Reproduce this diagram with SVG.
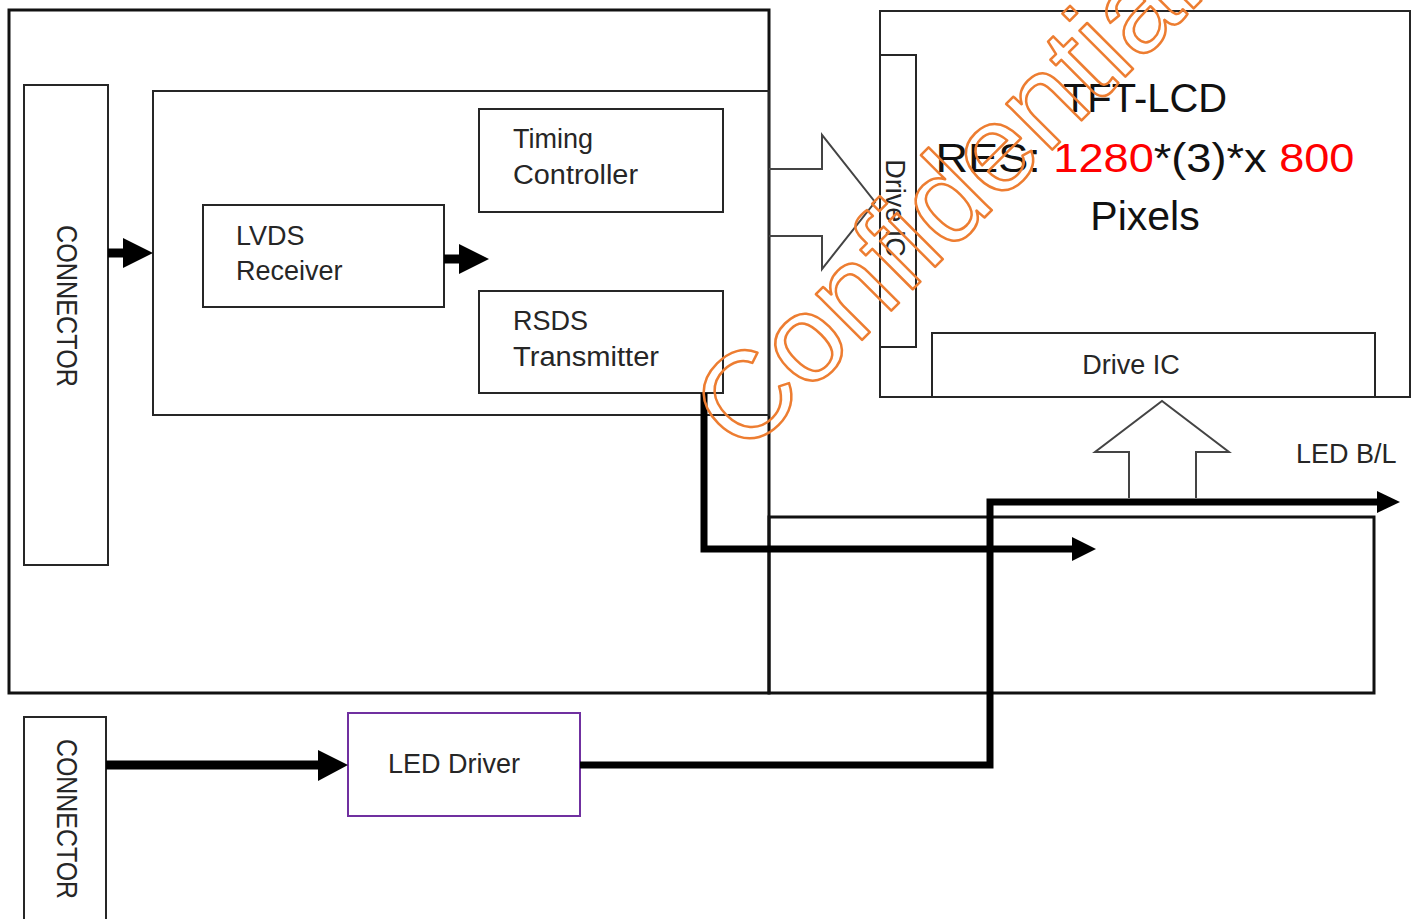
<svg xmlns="http://www.w3.org/2000/svg" width="1419" height="919" viewBox="0 0 1419 919">
<style>
.frame{fill:none;stroke:#111;stroke-width:3}
.box{fill:none;stroke:#262626;stroke-width:2}
.lbl{font-family:"Liberation Sans",Arial,sans-serif;font-size:27px;fill:#262626}
.big{font-family:"Liberation Sans",Arial,sans-serif;font-size:41px;fill:#111;text-anchor:middle}
.red{fill:#ff0000}
.thick{fill:none;stroke:#000;stroke-width:7}
.hollow{fill:none;stroke:#444;stroke-width:2}
.head{fill:#000}
</style>
<rect width="1419" height="919" fill="#fff"/>
<g id="board">
<rect class="frame" x="9" y="10" width="760" height="683"/>
<rect class="frame" x="769" y="517" width="605" height="176"/>
</g>
<g id="inner-block">
<rect class="box" x="153" y="91" width="616" height="324"/>
</g>
<g id="connector-top">
<rect class="box" x="24" y="85" width="84" height="480" stroke-width="1.5"/>
<text class="lbl" text-anchor="middle" textLength="162" lengthAdjust="spacingAndGlyphs" transform="translate(57,306) rotate(90)" style="font-size:30px">CONNECTOR</text>
</g>
<g id="lvds-receiver">
<rect class="box" x="203" y="205" width="241" height="102"/>
<text class="lbl" x="236" y="245">LVDS</text>
<text class="lbl" x="236" y="280">Receiver</text>
</g>
<g id="timing-controller">
<rect class="box" x="479" y="109" width="244" height="103"/>
<text class="lbl" x="513" y="148">Timing</text>
<text class="lbl" x="513" y="184" textLength="125" lengthAdjust="spacingAndGlyphs">Controller</text>
</g>
<g id="rsds-transmitter">
<rect class="box" x="479" y="291" width="244" height="102"/>
<text class="lbl" x="513" y="330">RSDS</text>
<text class="lbl" x="513" y="366" textLength="146" lengthAdjust="spacingAndGlyphs">Transmitter</text>
</g>
<g id="tft-lcd">
<rect class="box" x="880" y="11" width="530" height="386"/>
<text class="big" x="1145" y="112" textLength="164" lengthAdjust="spacingAndGlyphs">TFT-LCD</text>
<text class="big" x="1145" y="172" textLength="419" lengthAdjust="spacingAndGlyphs">RES: <tspan class="red">1280</tspan>*(3)*x <tspan class="red">800</tspan></text>
<text class="big" x="1145" y="230">Pixels</text>
</g>
<g id="drive-ic-vertical">
<rect class="box" x="880" y="55" width="36" height="292"/>
<text class="lbl" text-anchor="middle" transform="translate(886,208) rotate(90)">Drive IC</text>
</g>
<g id="drive-ic-bottom">
<rect class="box" x="932" y="333" width="443" height="64"/>
<text class="lbl" x="1131" y="374" text-anchor="middle">Drive IC</text>
</g>
<g id="led-bl-label">
<text class="lbl" x="1296" y="463">LED B/L</text>
</g>
<g id="connector-bottom">
<rect class="box" x="24" y="717" width="82" height="215" stroke-width="1.5"/>
<text class="lbl" text-anchor="middle" textLength="160" lengthAdjust="spacingAndGlyphs" transform="translate(57,819) rotate(90)" style="font-size:30px">CONNECTOR</text>
</g>
<g id="led-driver">
<rect x="348" y="713" width="232" height="103" fill="none" stroke="#7030a0" stroke-width="2"/>
<text class="lbl" x="388" y="773">LED Driver</text>
</g>
<g id="connectors">
<line x1="108" y1="253" x2="125" y2="253" stroke="#000" stroke-width="9"/>
<polygon class="head" points="123,238 153,253 123,268"/>
<line x1="444" y1="259" x2="461" y2="259" stroke="#000" stroke-width="9"/>
<polygon class="head" points="459,244 489,259 459,274"/>
<polyline class="hollow" points="769,169 822,169 822,135 875,202 822,269 822,236 769,236"/>
<polyline class="hollow" points="1129,498 1129,452 1095,452 1162,401 1229,452 1196,452 1196,498"/>
<path class="thick" d="M704,393 V549 H1075"/>
<polygon class="head" points="1072,537 1096,549 1072,561"/>
<line x1="106" y1="765" x2="320" y2="765" stroke="#000" stroke-width="9"/>
<polygon class="head" points="318,750 348,765 318,781"/>
<path class="thick" d="M580,765 H990 V502 H1380"/>
<polygon class="head" points="1377,491 1400,502 1377,513"/>
</g>
<g id="watermark">
<text transform="translate(744,458) rotate(-45)" font-family="'Liberation Sans',Arial,sans-serif" font-size="123" textLength="655" lengthAdjust="spacingAndGlyphs" fill="none" stroke="#ed7d31" stroke-width="2.5" stroke-linejoin="round">Confidential</text>
</g>
</svg>
